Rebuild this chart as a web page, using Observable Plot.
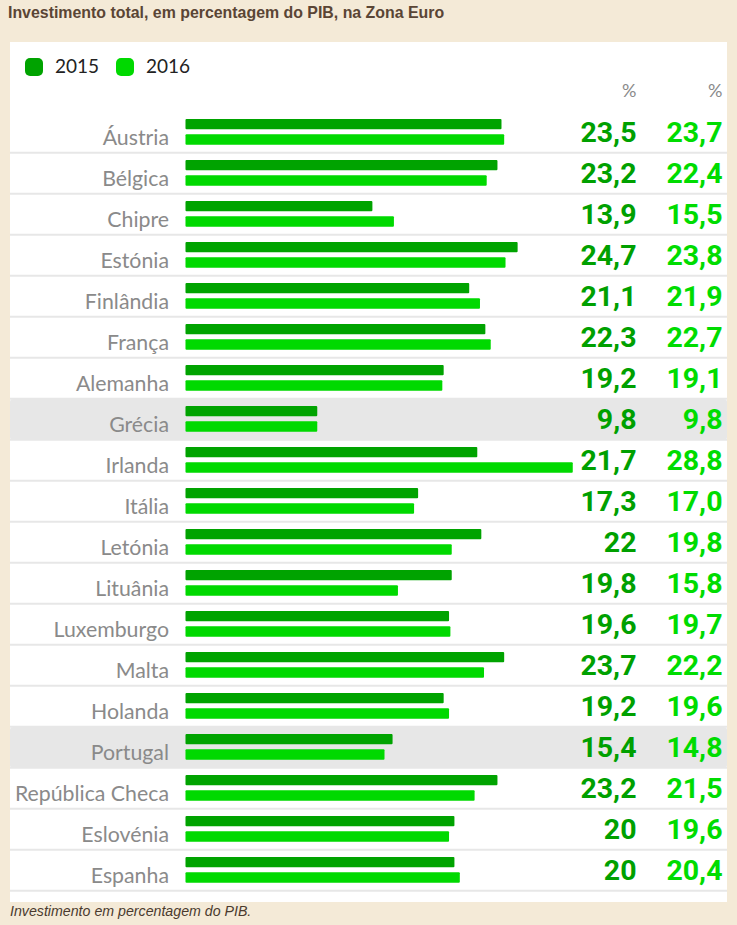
<!DOCTYPE html>
<html>
<head>
<meta charset="utf-8">
<script src="https://cdn.jsdelivr.net/npm/d3@7"></script>
<script src="https://cdn.jsdelivr.net/npm/@observablehq/plot@0.6"></script>
<style>
  html, body { margin: 0; padding: 0; }
  body { background: #f4ead7; width: 737px; height: 925px; position: relative; overflow: hidden; }
  #title { position: absolute; left: 8px; top: 5px; font: bold 15.9px/1 "Liberation Sans", Arial, sans-serif; color: #5a4535; white-space: nowrap; }
  #panel { position: absolute; left: 10px; top: 42px; width: 717px; height: 860px; background: #fff; }
  #legend { position: absolute; left: 15px; top: 16px; height: 18px; font: 19px/18px Lato, sans-serif; color: #222; }
  .sw { position: absolute; top: 0; width: 18px; height: 18px; border-radius: 5px; }
  .lt { position: absolute; top: -1px; white-space: nowrap; }
  #chart { position: absolute; left: 0; top: 38px; line-height: 0; }
  #caption { position: absolute; left: 10px; top: 904px; font: italic 14.2px/1 "Liberation Sans", Arial, sans-serif; color: #4a3a2e; white-space: nowrap; }
</style>
</head>
<body>
<div id="title">Investimento total, em percentagem do PIB, na Zona Euro</div>
<div id="panel">
  <div id="legend"></div>
  <div id="chart"></div>
</div>
<div id="caption">Investimento em percentagem do PIB.</div>
<script>
const countries = ["Áustria", "Bélgica", "Chipre", "Estónia", "Finlândia", "França", "Alemanha", "Grécia", "Irlanda", "Itália", "Letónia", "Lituânia", "Luxemburgo", "Malta", "Holanda", "Portugal", "República Checa", "Eslovénia", "Espanha"];
const values2015 = [23.5, 23.2, 13.9, 24.7, 21.1, 22.3, 19.2, 9.8, 21.7, 17.3, 22, 19.8, 19.6, 23.7, 19.2, 15.4, 23.2, 20, 20];
const values2016 = [23.7, 22.4, 15.5, 23.8, 21.9, 22.7, 19.1, 9.8, 28.8, 17.0, 19.8, 15.8, 19.7, 22.2, 19.6, 14.8, 21.5, 19.6, 20.4];
const highlighted = ["Grécia", "Portugal"];
const years = ["2015", "2016"];
const barColors = ["#00a300", "#00d900"];
const textColors = ["#00a000", "#00dc00"];
const unitLabel = "%";

// legend
const legend = document.getElementById("legend");
const legendX = [0, 91];
years.forEach((y, i) => {
  const sw = document.createElement("div");
  sw.className = "sw";
  sw.style.left = legendX[i] + "px";
  sw.style.background = barColors[i];
  legend.appendChild(sw);
  const t = document.createElement("div");
  t.className = "lt";
  t.style.left = (legendX[i] + 30) + "px";
  t.textContent = y;
  legend.appendChild(t);
});

const rows = countries.map((c, i) => ({country: c, v2015: values2015[i], v2016: values2016[i]}));
const fmt2015 = v => String(v).replace(".", ",");
const fmt2016 = v => v.toFixed(1).replace(".", ",");

const W = 717, H = 822, mTop = 28.7, mBottom = 8;
const bw = (H - mTop - mBottom) / countries.length;
const xDomain = [-13.05, 40.27];

const chart = Plot.plot({
  width: W,
  height: H,
  marginTop: mTop,
  marginBottom: mBottom,
  marginLeft: 0,
  marginRight: 0,
  style: {background: "transparent", fontFamily: "Roboto, sans-serif", display: "block"},
  x: {domain: xDomain, axis: null},
  y: {domain: countries, padding: 0, axis: null},
  marks: [
    Plot.barX(rows.filter(d => highlighted.includes(d.country)), {
      y: "country", x1: () => xDomain[0], x2: () => xDomain[1], fill: "#e7e7e7", rx: 3
    }),
    Plot.ruleY(rows, {y: "country", dy: bw / 2 - 1, stroke: "#e7e7e7", strokeWidth: 2}),
    Plot.barX(rows, {y: "country", x: "v2015", fill: barColors[0], insetTop: 7, insetBottom: bw - 17.6, rx: 1}),
    Plot.barX(rows, {y: "country", x: "v2016", fill: barColors[1], insetTop: 22.2, insetBottom: bw - 33.2, rx: 1}),
    Plot.text(rows, {
      x: () => 0, y: "country", text: "country", textAnchor: "end", dx: -17, dy: 5,
      fontSize: 21.3, fontFamily: "Lato, sans-serif", fill: "#8a8a8a"
    }),
    Plot.text(rows, {
      y: "country", frameAnchor: "right", text: d => fmt2015(d.v2015), textAnchor: "end", dx: -91,
      fontSize: 28.5, fontWeight: 700, fill: textColors[0]
    }),
    Plot.text(rows, {
      y: "country", frameAnchor: "right", text: d => fmt2016(d.v2016), textAnchor: "end", dx: -5,
      fontSize: 28.5, fontWeight: 700, fill: textColors[1]
    }),
    Plot.text([unitLabel], {
      frameAnchor: "top-right", text: d => d, textAnchor: "end", lineAnchor: "bottom", dx: -91, dy: -12.7,
      fontSize: 18, fontFamily: "Lato, sans-serif", fill: "#8a8a8a"
    }),
    Plot.text([unitLabel], {
      frameAnchor: "top-right", text: d => d, textAnchor: "end", lineAnchor: "bottom", dx: -5, dy: -12.7,
      fontSize: 18, fontFamily: "Lato, sans-serif", fill: "#8a8a8a"
    })
  ]
});
document.getElementById("chart").appendChild(chart);
</script>
</body>
</html>
